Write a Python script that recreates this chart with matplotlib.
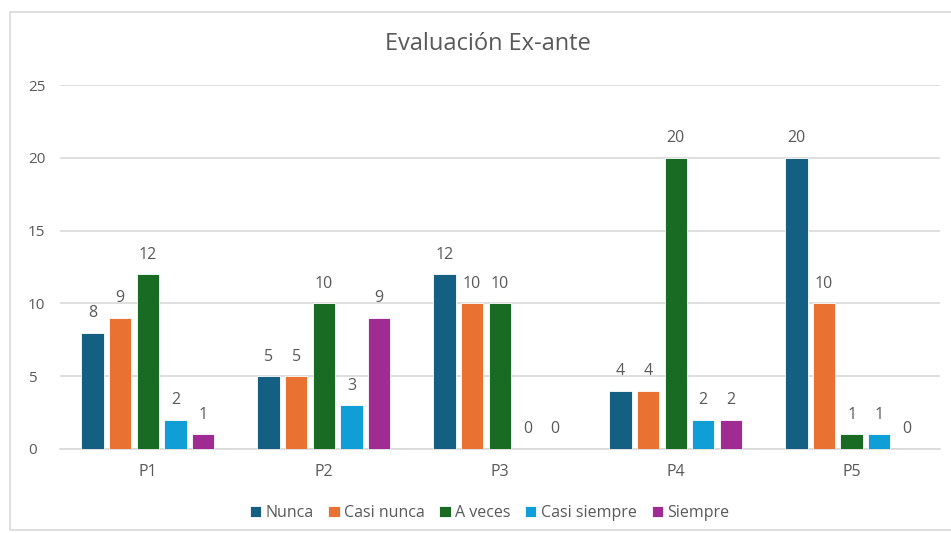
import numpy as np
import matplotlib
matplotlib.use("Agg")
import matplotlib.pyplot as plt
from matplotlib.patches import Rectangle

plt.rcParams['font.family'] = ['Open Sans', 'DejaVu Sans']

# Datos
categories = ["P1", "P2", "P3", "P4", "P5"]
series = ["Nunca", "Casi nunca", "A veces", "Casi siempre", "Siempre"]
nunca = [8, 5, 12, 4, 20]
casi_nunca = [9, 5, 10, 4, 10]
a_veces = [12, 10, 10, 20, 1]
casi_siempre = [2, 3, 0, 2, 1]
siempre = [1, 9, 0, 2, 0]

colors = ["#156082", "#E97132", "#196B24", "#0F9ED5", "#A02B93"]
text_col = "#595959"

fig = plt.figure(figsize=(9.51, 5.33), dpi=100)
ax = fig.add_axes([0.063, 0.1576, 0.925, 0.6829])

# marco del grafico
fig.patches.append(Rectangle((0.0105, 0.005), 0.995, 0.972, transform=fig.transFigure,
                             fill=False, edgecolor="#D9D9D9", linewidth=1.2))

x = np.arange(len(categories))
pitch = 0.157
width = 0.127
all_vals = [nunca, casi_nunca, a_veces, casi_siempre, siempre]
for i, (name, vals) in enumerate(zip(series, all_vals)):
    pos = x + (i - 2) * pitch
    bars = ax.bar(pos, vals, width, color=colors[i], label=name, zorder=3,
                  edgecolor="white", linewidth=0.6)
    for b, v in zip(bars, vals):
        ax.text(b.get_x() + b.get_width() / 2, v + 1.35, str(v), ha="center", va="center",
                fontsize=11.5, color=text_col)

ax.set_xlim(-0.5, len(categories) - 0.5)
ax.set_ylim(0, 25)
ax.set_yticks(range(0, 26, 5))
ax.set_xticks(x)
ax.set_xticklabels(categories)
ax.yaxis.grid(True, color="#D9D9D9", linewidth=1.2, zorder=0)
for s in ["top", "right", "left"]:
    ax.spines[s].set_visible(False)
ax.spines["bottom"].set_color("#D9D9D9")
ax.spines["bottom"].set_linewidth(1.2)
ax.tick_params(axis="both", length=0, labelsize=11, colors=text_col)
ax.tick_params(axis="x", pad=11, labelsize=11.5)
ax.tick_params(axis="y", pad=23)
for lbl in ax.get_yticklabels():
    lbl.set_horizontalalignment("left")

fig.text(0.513, 0.918, "Evaluación Ex-ante", ha="center", va="center", fontsize=17, color=text_col)

fig.legend(loc="center", bbox_to_anchor=(0.515, 0.038), ncol=5, frameon=False,
           fontsize=11.5, labelcolor=text_col, handlelength=0.7, handleheight=0.7,
           handletextpad=0.3, columnspacing=0.9)

fig.savefig("out.png", dpi=100)
